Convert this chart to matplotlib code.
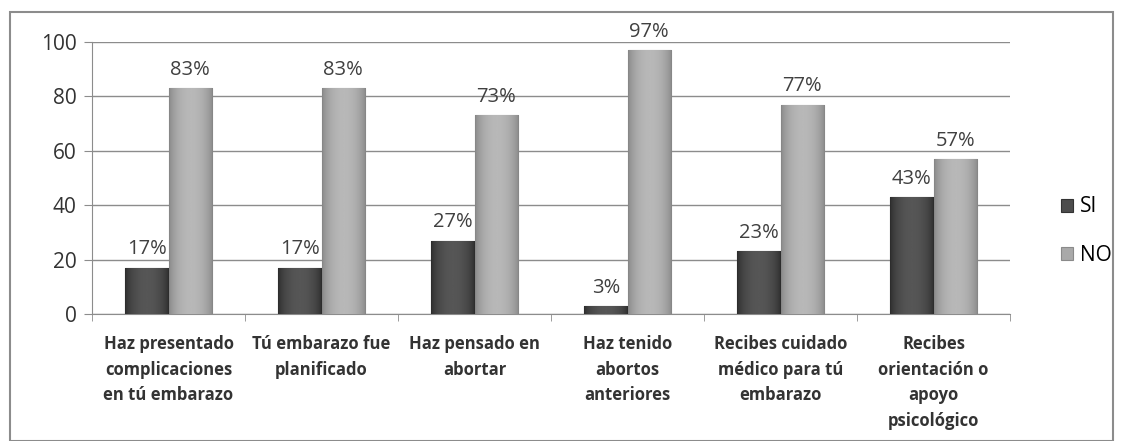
import numpy as np
import matplotlib.pyplot as plt
from matplotlib.patches import Rectangle
from matplotlib.colors import LinearSegmentedColormap

categorias = ['Haz presentado\ncomplicaciones\nen tú embarazo',
              'Tú embarazo fue\nplanificado',
              'Haz pensado en\nabortar',
              'Haz tenido\nabortos\nanteriores',
              'Recibes cuidado\nmédico para tú\nembarazo',
              'Recibes\norientación o\napoyo\npsicológico']
si = [17, 17, 27, 3, 23, 43]
no = [83, 83, 73, 97, 77, 57]

plt.rcParams['font.family'] = ['Open Sans', 'DejaVu Sans']

fig = plt.figure(figsize=(11.23, 4.41), dpi=100)
fig.patches.append(Rectangle((10/1123, 0), 1103/1123, 1 - 12/441, transform=fig.transFigure,
                             fill=False, edgecolor='#8c8c8c', linewidth=1.5))
ax = fig.add_axes([92/1123, 1 - 314/441, 918/1123, 272/441])

x = np.arange(len(categorias))
w = 0.285
b1 = ax.bar(x - w/2, si, w, color='#4d4d4d', edgecolor='#333333', linewidth=0.8, label='SI', zorder=3)
b2 = ax.bar(x + w/2, no, w, color='#a9a9a9', edgecolor='#8a8a8a', linewidth=0.8, label='NO', zorder=3)

# sombreado tipo cilindro (solo estilo)
t = np.linspace(0, 1, 64)
grad = (np.sin(np.pi * t) ** 0.6)[None, :]
cm_si = LinearSegmentedColormap.from_list('si', ['#2b2b2b', '#565656'])
cm_no = LinearSegmentedColormap.from_list('no', ['#858585', '#b8b8b8'])
for bars, cm in [(b1, cm_si), (b2, cm_no)]:
    for r in bars:
        im = ax.imshow(grad, cmap=cm, aspect='auto', zorder=3.5, interpolation='bilinear',
                       extent=[r.get_x(), r.get_x() + r.get_width(), 0, r.get_height()])
        im.set_clip_path(r)

for rect, v in zip(list(b1) + list(b2), si + no):
    ax.annotate(f'{v}%', (rect.get_x() + rect.get_width()/2, v), xytext=(0, 6),
                textcoords='offset points', ha='center', va='bottom', fontsize=14.5, color='#404040')

ax.set_xlim(-0.5, len(categorias) - 0.5)
ax.set_ylim(0, 100)
ax.set_yticks([0, 20, 40, 60, 80, 100])
ax.yaxis.grid(True, color='#8c8c8c', linewidth=1)
ax.set_axisbelow(True)
ax.tick_params(axis='y', labelsize=15, length=6, color='#8c8c8c', labelcolor='#333333', pad=5)
ax.set_xticks(x)
ax.set_xticklabels(categorias, fontsize=12, fontweight='bold', color='#333333', linespacing=1.55)
ax.set_xticks(np.arange(-0.5, len(categorias)), minor=True)
ax.tick_params(axis='x', which='major', length=0, pad=15)
ax.tick_params(axis='x', which='minor', length=5, color='#8c8c8c')
for s in ['top', 'right']:
    ax.spines[s].set_visible(False)
ax.spines['left'].set_color('#8c8c8c')
ax.spines['bottom'].set_color('#8c8c8c')

fig.legend(loc='center left', bbox_to_anchor=(1042/1123, 1 - 231/441), frameon=False,
           fontsize=15, handlelength=0.6, handleheight=0.6, handletextpad=0.3, labelspacing=1.3)

plt.savefig('out.png')
